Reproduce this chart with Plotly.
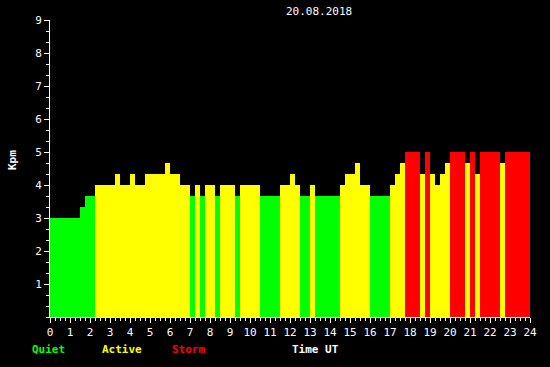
import plotly.graph_objects as go

# Run-length encoded Kpm data (15-min resolution): segment start hour (UT) and Kpm value
seg_start = [0.0, 1.5, 1.75, 2.25, 3.25, 3.5, 4.0, 4.25, 4.75, 5.75, 6.0, 6.5, 7.0, 7.25,
             7.5, 7.75, 8.25, 8.5, 9.25, 9.5, 10.5, 11.5, 12.0, 12.25, 12.5, 13.0, 13.25,
             14.5, 14.75, 15.25, 15.5, 16.0, 17.0, 17.25, 17.5, 17.75, 18.5, 18.75, 19.0,
             19.25, 19.5, 19.75, 20.0, 20.75, 21.0, 21.25, 21.5, 22.5, 22.75]
seg_end_last = 24.0
seg_value = [3.0, 3.33, 3.67, 4.0, 4.33, 4.0, 4.33, 4.0, 4.33, 4.67, 4.33, 4.0, 3.67, 4.0,
             3.67, 4.0, 3.67, 4.0, 3.67, 4.0, 3.67, 4.0, 4.33, 4.0, 3.67, 4.0, 3.67,
             4.0, 4.33, 4.67, 4.0, 3.67, 4.0, 4.33, 4.67, 5.0, 4.33, 5.0, 4.33,
             4.0, 4.33, 4.67, 5.0, 4.67, 5.0, 4.33, 5.0, 4.67, 5.0]

x_ticks = list(range(0, 25))
y_ticks = list(range(1, 10))
date_label = "20.08.2018"
legend_labels = ["Quiet", "Active", "Storm"]
legend_colors = ["#00FF00", "#FFFF00", "#FF0000"]


def level_color(v):
    if v >= 5:
        return "#FF0000"
    if v >= 4:
        return "#FFFF00"
    return "#00FF00"


ends = seg_start[1:] + [seg_end_last]
widths = [e - s for s, e in zip(seg_start, ends)]
centers = [s + w / 2 for s, w in zip(seg_start, widths)]
colors = [level_color(v) for v in seg_value]

FONT = "DejaVu Sans Mono"

fig = go.Figure()
fig.add_trace(go.Bar(
    x=centers, y=seg_value, width=widths,
    marker=dict(color=colors, line=dict(width=0)),
    hoverinfo="skip", showlegend=False,
))

fig.update_layout(
    width=550, height=367,
    margin=dict(l=50, r=20, t=20, b=50),
    paper_bgcolor="black", plot_bgcolor="black",
    bargap=0,
    font=dict(family=FONT, size=11, color="white"),
    xaxis=dict(
        range=[0, 24], tickvals=x_ticks, ticktext=[str(t) for t in x_ticks],
        ticks="outside", ticklen=5, tickcolor="white", tickwidth=1,
        minor=dict(dtick=0.25, ticks="outside", ticklen=3, tickcolor="white", tickwidth=1),
        showgrid=False, zeroline=False,
        showline=True, linecolor="white", linewidth=1,
        tickfont=dict(family=FONT, size=11, color="white"),
        fixedrange=True,
    ),
    yaxis=dict(
        range=[0, 9], tickvals=y_ticks, ticktext=[str(t) for t in y_ticks],
        ticks="outside", ticklen=5, tickcolor="white", tickwidth=1,
        minor=dict(tick0=0, dtick=1/3, ticks="outside", ticklen=3, tickcolor="white", tickwidth=1),
        showgrid=False, zeroline=False,
        showline=True, linecolor="white", linewidth=1,
        tickfont=dict(family=FONT, size=11, color="white"),
        fixedrange=True,
    ),
)

annotations = [
    dict(text=date_label, xref="paper", yref="paper", x=(319 - 50) / 480, y=1 + 8.5 / 297,
         showarrow=False, xanchor="center", yanchor="middle",
         font=dict(family=FONT, size=11, color="white")),
    dict(text="<b>Kpm</b>", xref="paper", yref="paper", x=-38 / 480, y=(317 - 160) / 297,
         showarrow=False, textangle=-90, xanchor="center", yanchor="middle",
         font=dict(family=FONT, size=11, color="white")),
    dict(text="<b>Time UT</b>", xref="paper", yref="paper", x=(290 - 50) / 480, y=-(349 - 317) / 297,
         showarrow=False, xanchor="left", yanchor="middle",
         font=dict(family=FONT, size=11, color="white")),
]
legend_x = [30, 100, 170]
for lbl, col, px in zip(legend_labels, legend_colors, legend_x):
    annotations.append(dict(
        text=f"<b>{lbl}</b>", xref="paper", yref="paper", x=(px - 50) / 480,
        y=-(349 - 317) / 297, showarrow=False, xanchor="left", yanchor="middle",
        font=dict(family=FONT, size=11, color=col)))
fig.update_layout(annotations=annotations)

fig.write_html("out.html",
               config={"displayModeBar": False, "staticPlot": True},
               post_script="document.body.style.margin='0';document.body.style.background='black';")
